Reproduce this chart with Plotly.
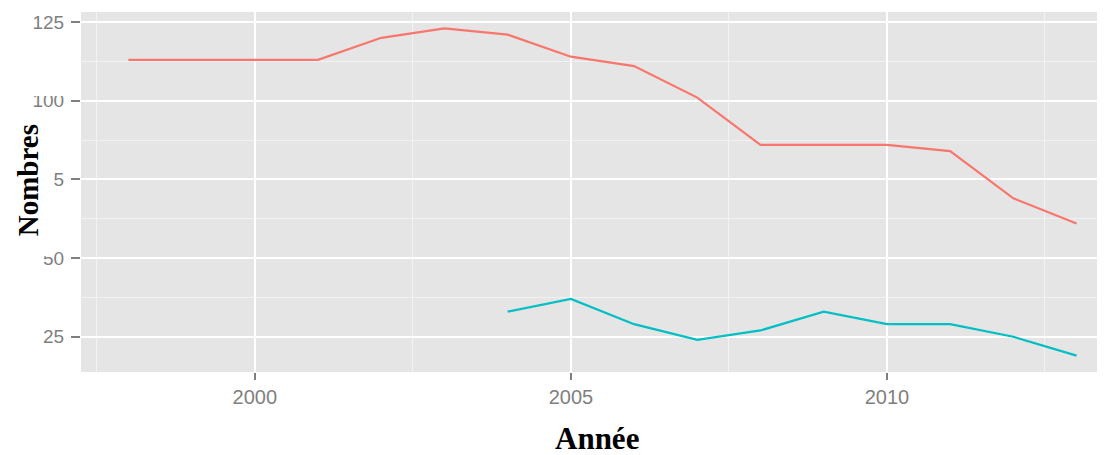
import plotly.graph_objects as go

years_red = [1998, 1999, 2000, 2001, 2002, 2003, 2004, 2005, 2006, 2007, 2008, 2009, 2010, 2011, 2012, 2013]
values_red = [113, 113, 113, 113, 120, 123, 121, 114, 111, 101, 86, 86, 86, 84, 69, 61]

years_teal = [2004, 2005, 2006, 2007, 2008, 2009, 2010, 2011, 2012, 2013]
values_teal = [33, 37, 29, 24, 27, 33, 29, 29, 25, 19]

x_ticks = [2000, 2005, 2010]
y_ticks = [25, 50, 75, 100, 125]

# the page body has an 8px margin: work in window pixels, subtract the offset
OFF = 8
W, H = 1105 - OFF, 455 - OFF
L, R, T, B = 81 - OFF, 0, 11.5 - OFF, 455 - 372

PW, PH = W - L - R, H - T - B

def fx(p):
    """window x pixel -> paper x"""
    return (p - OFF - L) / PW

def fy(p):
    """window y pixel -> paper y"""
    return (H - B - (p - OFF)) / PH

fig = go.Figure()
fig.add_trace(go.Scatter(x=years_red, y=values_red, mode="lines",
                         line=dict(color="#F8766D", width=2.2), showlegend=False))
fig.add_trace(go.Scatter(x=years_teal, y=values_teal, mode="lines",
                         line=dict(color="#00BFC4", width=2.2), showlegend=False))

tickfont = dict(family="Liberation Sans, Arial, sans-serif", color="#7F7F7F")

fig.update_layout(
    width=W, height=H,
    margin=dict(l=L, r=R, t=T, b=B, autoexpand=False),
    paper_bgcolor="white",
    plot_bgcolor="#E5E5E5",
    xaxis=dict(
        range=[1997.25, 2013.45],
        tickvals=x_ticks, ticktext=[str(v) for v in x_ticks],
        showgrid=True, gridcolor="white", gridwidth=2.2,
        minor=dict(dtick=2.5, tick0=1997.5, showgrid=True, gridcolor="#F2F2F2", gridwidth=1, ticks=""),
        ticks="outside", ticklen=7, tickwidth=2, tickcolor="#7F7F7F",
        tickfont=dict(size=20, **tickfont),
        ticklabelstandoff=0,
        zeroline=False, showline=False, automargin=False,
    ),
    yaxis=dict(
        range=[13.8, 128.2],
        tickvals=y_ticks, ticktext=[str(v) for v in y_ticks],
        showgrid=True, gridcolor="white", gridwidth=2.2,
        minor=dict(dtick=25, tick0=12.5, showgrid=True, gridcolor="#F2F2F2", gridwidth=1, ticks=""),
        ticks="outside", ticklen=9, tickwidth=2, tickcolor="#7F7F7F",
        tickfont=dict(size=19, **tickfont),
        ticklabelstandoff=3,
        zeroline=False, showline=False, automargin=False,
    ),
)

# white patches covering parts of the y tick labels (as in the reference)
fig.add_shape(type="rect", xref="paper", yref="paper", layer="above",
              x0=fx(0), x1=fx(53.5), y0=fy(256), y1=fy(108),
              fillcolor="white", line=dict(width=0))
fig.add_shape(type="rect", xref="paper", yref="paper", layer="above",
              x0=fx(20), x1=fx(66), y0=fy(95.5), y1=fy(84),
              fillcolor="white", line=dict(width=0))

serif = "Liberation Serif, Times New Roman, serif"
fig.add_annotation(text="<b>Nombres</b>", xref="paper", yref="paper",
                   x=fx(28), y=fy(180),
                   xanchor="center", yanchor="middle", textangle=-90, showarrow=False,
                   font=dict(family=serif, size=29, color="black"))
fig.add_annotation(text="<b>Année</b>", xref="paper", yref="paper",
                   x=fx(597), y=fy(439),
                   xanchor="center", yanchor="middle", showarrow=False,
                   font=dict(family=serif, size=31, color="black"))

fig.write_html("out.html")
